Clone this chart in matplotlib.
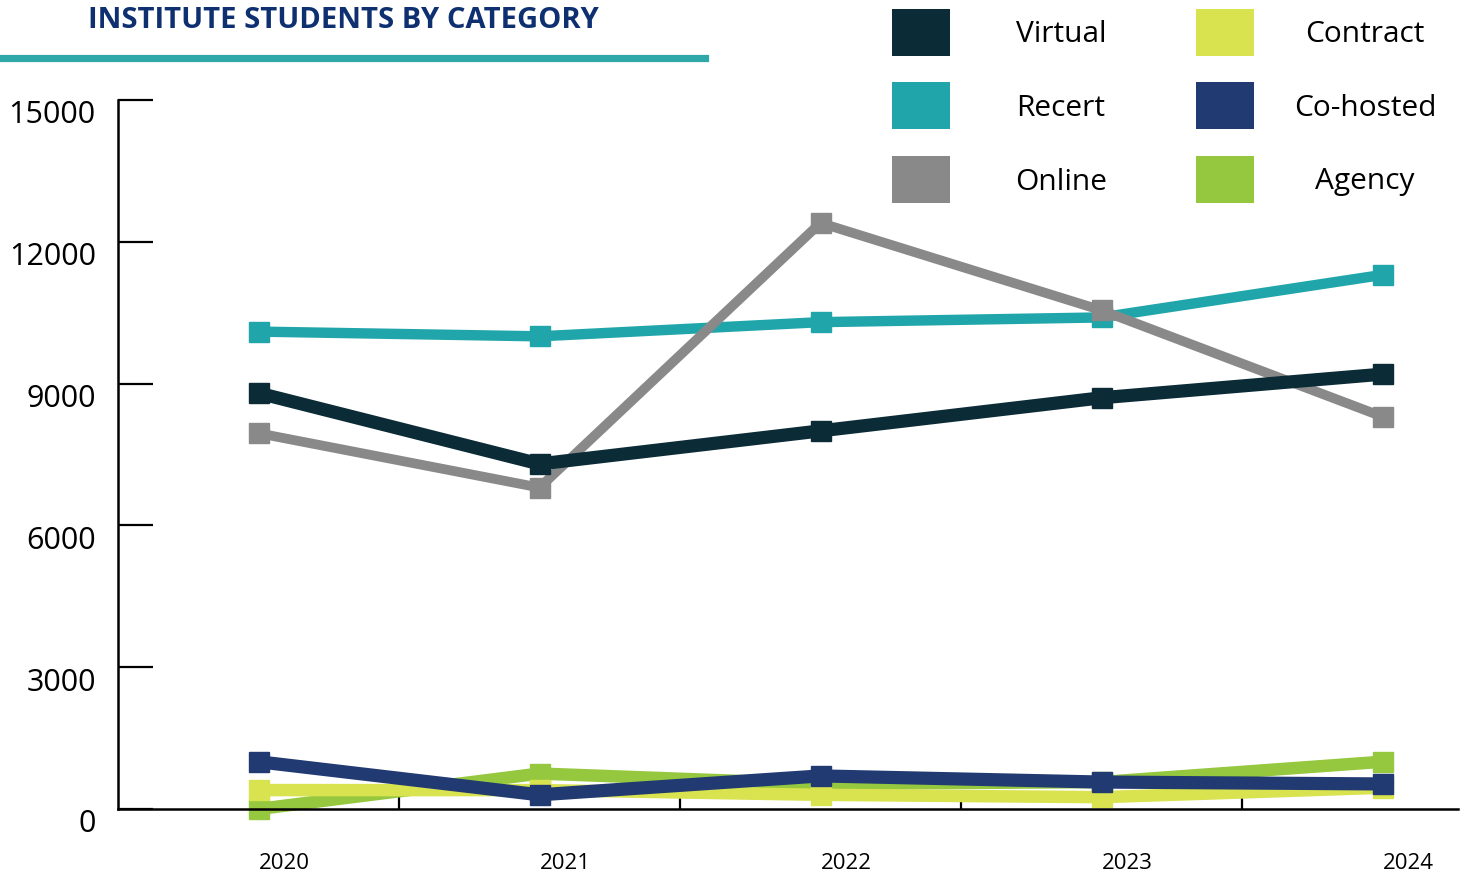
import matplotlib
matplotlib.use("Agg")
import matplotlib.pyplot as plt
from matplotlib.patches import Rectangle
from matplotlib.lines import Line2D
import matplotlib.transforms as mtransforms

W, H = 1461, 875

years = ["2020", "2021", "2022", "2023", "2024"]
virtual = [8800, 7300, 8000, 8700, 9200]
recert = [10100, 10000, 10300, 10400, 11300]
online = [7950, 6800, 12400, 10550, 8300]
contract = [400, 400, 300, 250, 450]
cohosted = [1000, 300, 700, 570, 530]
agency = [0, 750, 530, 570, 1000]

series_names = ["Virtual", "Recert", "Online", "Contract", "Co-hosted", "Agency"]
colors = {"Virtual": "#0b2b36", "Recert": "#20a6aa", "Online": "#898989",
          "Contract": "#d9e24f", "Co-hosted": "#213a72", "Agency": "#95c83e"}
widths = {"Virtual": 9.5, "Recert": 7.5, "Online": 7, "Contract": 9, "Co-hosted": 9.5, "Agency": 9}
values = {"Virtual": virtual, "Recert": recert, "Online": online,
          "Contract": contract, "Co-hosted": cohosted, "Agency": agency}

plt.rcParams['font.family'] = ['Open Sans', 'DejaVu Sans']

fig = plt.figure(figsize=(W / 100, H / 100), dpi=100)
ax = fig.add_axes([118 / W, 1 - 809 / H, (1458 - 118) / W, (809 - 100) / H])

x = list(range(len(years)))
# draw order: low series first, then the big ones
for name in ["Agency", "Contract", "Recert", "Online", "Virtual", "Co-hosted"]:
    ax.plot(x, values[name], color=colors[name], lw=widths[name],
            marker="s", markersize=14, solid_joinstyle="miter", clip_on=False)

ax.set_ylim(0, 15000)
ax.set_xlim(-0.5, -0.5 + (1458 - 118) / 281)

for s in ["top", "right"]:
    ax.spines[s].set_visible(False)
for s in ["left", "bottom"]:
    ax.spines[s].set_linewidth(1.8)
    ax.spines[s].set_color("black")

ax.set_yticks([0, 3000, 6000, 9000, 12000, 15000])
ax.tick_params(axis="y", direction="in", length=25, width=1.6, labelsize=22, pad=16)
offset = mtransforms.ScaledTranslation(0, -12 / 100, fig.dpi_scale_trans)
for lbl in ax.get_yticklabels():
    lbl.set_transform(lbl.get_transform() + offset)

ax.set_xticks([i + 0.092 for i in x])
ax.set_xticklabels(years)
ax.tick_params(axis="x", which="major", length=0, labelsize=16, pad=32)
ax.set_xticks([0.5, 1.5, 2.5, 3.5], minor=True)
ax.tick_params(axis="x", which="minor", direction="in", length=9, width=1.6)

# title and underline
fig.text(88 / W, 1 - 21 / H, "INSTITUTE STUDENTS BY CATEGORY", fontsize=21,
         fontweight="bold", color="#0e2f70", va="center", ha="left")
fig.add_artist(Line2D([0, 705 / W], [1 - 57.5 / H, 1 - 57.5 / H],
                      transform=fig.transFigure, color="#2ea8a8", lw=5.2))

# legend, two columns of three
legend_cols = [(892, 1061, series_names[:3]), (1196, 1365, series_names[3:])]
rows = [9, 82, 156]
for box_x, text_x, names in legend_cols:
    for top, name in zip(rows, names):
        fig.add_artist(Rectangle((box_x / W, 1 - (top + 47) / H), 58 / W, 47 / H,
                                 transform=fig.transFigure, color=colors[name], lw=0))
        fig.text(text_x / W, 1 - (top + 26) / H, name, fontsize=21.5,
                 ha="center", va="center", color="black")

fig.savefig("out.png", dpi=100)
